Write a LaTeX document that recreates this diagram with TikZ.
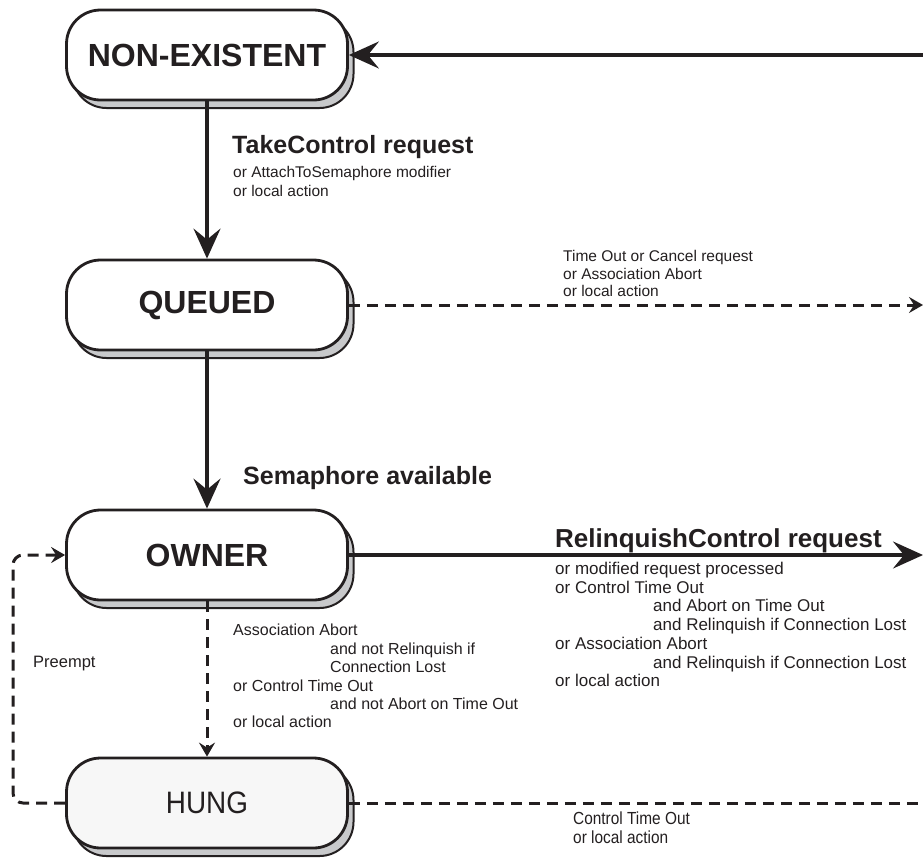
\documentclass[tikz,border=0pt]{standalone}
\usepackage{fontspec}
\setmainfont{Liberation Sans}
\usetikzlibrary{arrows.meta,shadows}

\definecolor{ink}{HTML}{231F20}
\definecolor{shade}{HTML}{C8C9CB}
\definecolor{hungfill}{HTML}{F7F7F7}

\tikzset{
  statebox/.style={draw=ink, line width=2.8pt, rounded corners=34pt,
    minimum width=281pt, minimum height=90pt, inner sep=0pt,
    fill=white, text=ink,
    copy shadow={shadow xshift=6pt, shadow yshift=-8pt, fill=shade,
      draw=ink, line width=2pt}},
  statefont/.style={font=\fontsize{32}{36}\selectfont\bfseries},
  bighead/.style={-{Stealth[length=30pt,width=27pt,inset=11pt]}},
  smallhead/.style={-{Stealth[length=14pt,width=16pt,inset=5pt]}},
  solidline/.style={draw=ink, line width=3.2pt},
  dashline/.style={draw=ink, line width=3pt, dash pattern=on 11pt off 7pt},
  titlelabel/.style={text=ink, inner sep=0pt, anchor=west,
    font=\fontsize{25}{30}\selectfont\bfseries},
  smalllabel/.style={text=ink, inner sep=0pt, anchor=north west, align=left,
    font=\fontsize{15.5}{18.6}\selectfont},
}

\begin{document}
\begin{tikzpicture}[x=1pt, y=-1pt]
  \useasboundingbox (0,0) rectangle (923,857);

  % states
  \node[statebox, statefont] (ne) at (207,55) {NON-EXISTENT};
  \node[statebox, statefont] (q)  at (207,305) {QUEUED};
  \node[statebox, statefont] (o)  at (207,555) {OWNER};
  \node[statebox, fill=hungfill, font=\fontsize{31}{36}\selectfont] (h) at (207,803)
    {\scalebox{0.9}[1]{HUNG}};

  % free ends at the right border
  \coordinate (rne) at (923,55);
  \coordinate (rq)  at (923,305);
  \coordinate (ro)  at (923,555);
  \coordinate (rh)  at (923,803);
  \coordinate (pl)  at (13,680);

  % transitions
  \draw[solidline, bighead] (rne) -- (ne.east);
  \draw[solidline, bighead] (ne.south) -- (q.north);
  \draw[solidline, bighead] (q.south) -- (o.north);
  \draw[solidline, bighead] (o.east) -- (ro);
  \draw[dashline, smallhead] (q.east) -- (rq);
  \draw[dashline, smallhead] (o.south) -- (h.north);
  \draw[dashline] (h.east) -- (rh);
  \draw[dashline, smallhead, rounded corners=10pt] (h.west) -| (pl) |- (o.west);

  % labels
  \node[titlelabel] (tc) at (232,147) {TakeControl request};
  \node[smalllabel] (tcs) at (233,166) {or AttachToSemaphore modifier\\or local action};

  \node[smalllabel, font=\fontsize{15.5}{17.6}\selectfont] (qs) at (563,250)
    {Time Out or Cancel request\\or Association Abort\\or local action};

  \node[titlelabel] (sa) at (243,478) {Semaphore available};

  \node[titlelabel, font=\fontsize{26}{30}\selectfont\bfseries] (rc) at (555,541)
    {RelinquishControl request};
  \node[smalllabel, font=\fontsize{17}{18.7}\selectfont] (rcs) at (555,562)
    {or modified request processed\\
     or Control Time Out\\
     \hspace*{98pt}and Abort on Time Out\\
     \hspace*{98pt}and Relinquish if Connection Lost\\
     or Association Abort\\
     \hspace*{98pt}and Relinquish if Connection Lost\\
     or local action};

  \node[smalllabel, font=\fontsize{16}{18.4}\selectfont] (hs) at (233,624)
    {Association Abort\\
     \hspace*{97pt}and not Relinquish if\\
     \hspace*{97pt}Connection Lost\\
     or Control Time Out\\
     \hspace*{97pt}and not Abort on Time Out\\
     or local action};

  \node[smalllabel, anchor=west, font=\fontsize{16.5}{18}\selectfont] (pre) at (33,664) {Preempt};

  \node[smalllabel, font=\fontsize{17.5}{18.4}\selectfont] (ct) at (573,812)
    {\scalebox{0.88}[1]{Control Time Out}\\\scalebox{0.88}[1]{or local action}};
\end{tikzpicture}
\end{document}
